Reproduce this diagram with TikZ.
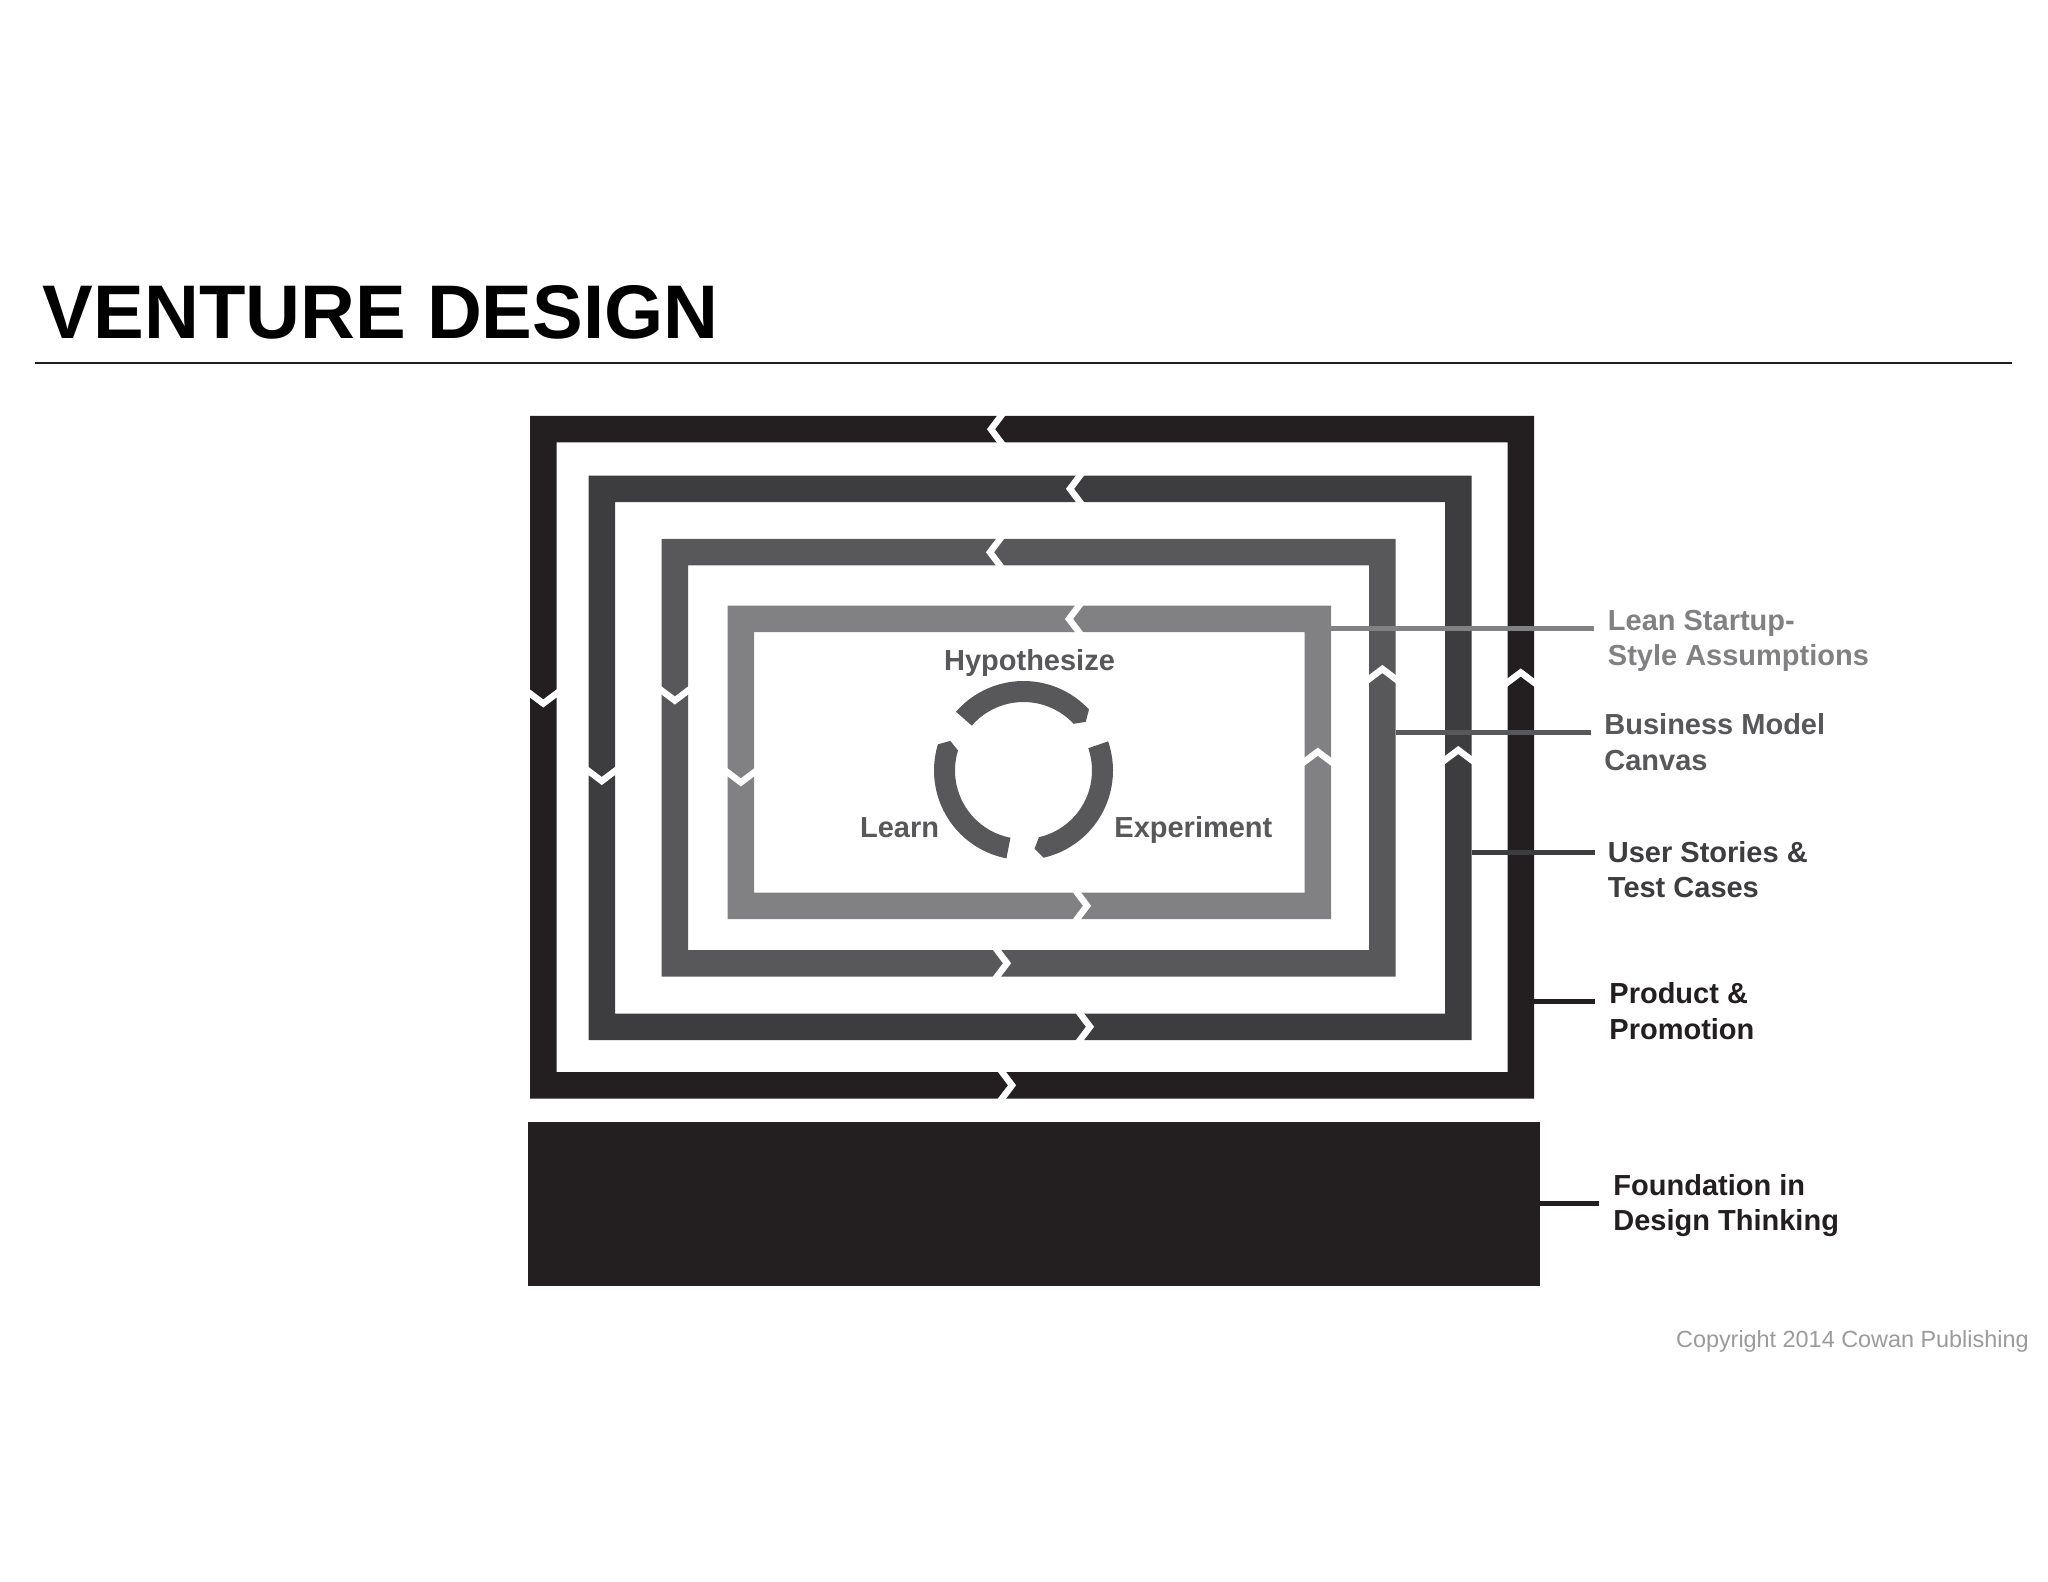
\documentclass[tikz,border=0pt]{standalone}
\usepackage{fontspec}
\setmainfont{Liberation Sans}
\definecolor{cA}{HTML}{231F20}
\definecolor{cB}{HTML}{3D3C3E}
\definecolor{cC}{HTML}{58585A}
\definecolor{cD}{HTML}{818083}
\definecolor{cE}{HTML}{9B9B9B}
\tikzset{
  notch/.style={draw=white, line width=3.25pt, line join=miter, miter limit=10},
  lbl/.style={inner sep=0pt, anchor=base west, align=left, font=\fontsize{14.5}{17.75}\selectfont\bfseries},
  cyc/.style={inner sep=0pt, font=\fontsize{14.5}{17.75}\selectfont\bfseries, text=cC},
  lead/.style={line width=2.25pt},
}
\newcommand\vdnotch[3]{\draw[notch,shift={(#1,#2)},rotate=#3] (7.8,-17) -- (-5,0) -- (7.8,17);}
\newcommand\ringseg[3]{\fill[cC] ([shift={(1023.5,770.5)}]#1:89.5) arc[start angle=#1, end angle=#2, radius=89.5] -- ([shift={(1023.5,770.5)}]#3:79) -- ([shift={(1023.5,770.5)}]#2:68.5) arc[start angle=#2, end angle=#1, radius=68.5] -- cycle;}
\begin{document}
\begin{tikzpicture}[x=0.5pt,y=-0.5pt]
\useasboundingbox (0,0) rectangle (2048,1582);
\fill[white] (0,0) rectangle (2048,1582);

% title
\node[inner sep=0pt, anchor=base west, font=\fontsize{38}{40}\selectfont\bfseries, text=black] (title) at (42.5,338.3) {VENTURE DESIGN};
\coordinate (rulea) at (35.3,363.3);
\coordinate (ruleb) at (2011.7,363.3);
\draw[cA, line width=1pt] (rulea) -- (ruleb);

% nested frames
\fill[cA, even odd rule] (530,416) rectangle (1534,1098.5) (556.5,442.5) rectangle (1507.5,1072);
\fill[cB, even odd rule] (588.5,475.6) rectangle (1471.5,1040) (615,502.1) rectangle (1445,1013.5);
\fill[cC, even odd rule] (661.6,539) rectangle (1395.6,976.5) (688.1,565.5) rectangle (1369.1,950);
\fill[cD, even odd rule] (727.6,605.7) rectangle (1331,919) (754.1,632.2) rectangle (1304.5,892.5);
% foundation
\fill[cA] (528,1121.5) rectangle (1540.4,1286);

% chevron notches
\vdnotch{996}{429.25}{0}
\vdnotch{1007}{1085.25}{180}
\vdnotch{543.25}{698.5}{90}
\vdnotch{1520.75}{677.5}{-90}
\vdnotch{1075}{488.85}{0}
\vdnotch{1085}{1026.75}{180}
\vdnotch{601.75}{776}{90}
\vdnotch{1458.25}{755}{-90}
\vdnotch{995}{552.25}{0}
\vdnotch{1002}{963.25}{180}
\vdnotch{674.85}{695.5}{90}
\vdnotch{1382.35}{674}{-90}
\vdnotch{1074}{618.95}{0}
\vdnotch{1082}{905.75}{180}
\vdnotch{740.85}{777.4}{90}
\vdnotch{1317.75}{756.7}{-90}

% cycle ring
\ringseg{-139}{-43}{-38}
\ringseg{-19}{77}{82}
\ringseg{-259}{-163}{-158}
\node[cyc, anchor=base] (hyp) at (1029.5,670.7) {Hypothesize};
\node[cyc, anchor=base west] (exp) at (1114,837) {Experiment};
\node[cyc, anchor=base west] (lrn) at (859.7,837.5) {Learn};

% leader lines
\coordinate (l1a) at (1331,628.3);   \coordinate (l1b) at (1594,628.3);
\coordinate (l2a) at (1395.6,732.7); \coordinate (l2b) at (1591,732.7);
\coordinate (l3a) at (1471.5,852.7); \coordinate (l3b) at (1595,852.7);
\coordinate (l4a) at (1534,1001.7);  \coordinate (l4b) at (1595,1001.7);
\coordinate (l5a) at (1540.4,1203.3);\coordinate (l5b) at (1599,1203.3);
\draw[lead, cD] (l1a) -- (l1b);
\draw[lead, cC] (l2a) -- (l2b);
\draw[lead, cB] (l3a) -- (l3b);
\draw[lead, cA] (l4a) -- (l4b);
\draw[lead, cA] (l5a) -- (l5b);

% labels (base anchor = last line's baseline)
\node[lbl, text=cD] (lean) at (1607.5,665.5) {Lean Startup-\\Style Assumptions};
\node[lbl, text=cC] (bmc) at (1604,770) {Business Model\\Canvas};
\node[lbl, text=cB] (usr) at (1607.5,897.8) {User Stories \&\\Test Cases};
\node[lbl, text=cA] (prod) at (1609,1039) {Product \&\\Promotion};
\node[lbl, text=cA] (fdn) at (1613,1230.5) {Foundation in\\Design Thinking};

% copyright
\node[inner sep=0pt, anchor=base east, font=\fontsize{11.7}{14}\selectfont, text=cE] (copy) at (2029,1347.3) {Copyright 2014 Cowan Publishing};
\end{tikzpicture}
\end{document}
